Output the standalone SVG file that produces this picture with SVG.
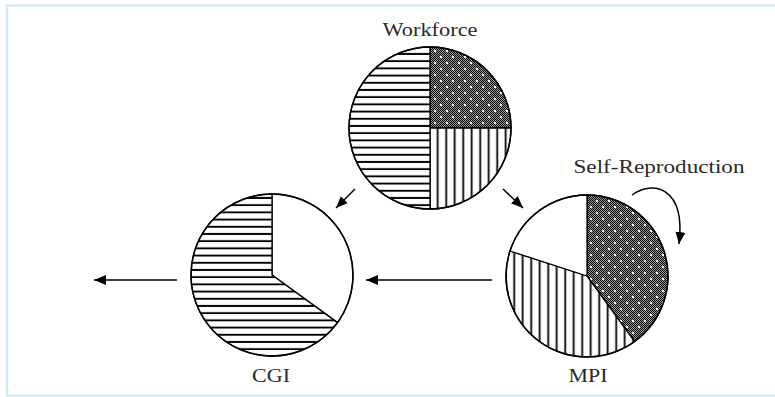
<svg xmlns="http://www.w3.org/2000/svg" width="775" height="397" viewBox="0 0 775 397">
<style>
.lbl{font-family:"Liberation Serif","Times New Roman",serif;font-size:18px;fill:#2a2a2a;text-anchor:middle}
.out{fill:none;stroke:#000;stroke-width:1.5}
.sl{stroke:#000;stroke-width:1.3;stroke-linejoin:round}
.con{fill:none;stroke:#000;stroke-width:1.5}
</style>
<defs>
<pattern id="hstripe" patternUnits="userSpaceOnUse" width="10" height="7.2">
<rect width="10" height="7.2" fill="#fff"/>
<rect y="2.6" width="10" height="1.9" fill="#000"/>
</pattern>
<pattern id="vstripe" patternUnits="userSpaceOnUse" width="8.5" height="10">
<rect width="8.5" height="10" fill="#fff"/>
<rect x="3.3" width="1.8" height="10" fill="#000"/>
</pattern>
<pattern id="checker" patternUnits="userSpaceOnUse" width="2" height="2">
<rect width="2" height="2" fill="#9a9a9a"/>
<rect width="1" height="1" fill="#000"/>
<rect x="1" y="1" width="1" height="1" fill="#000"/>
</pattern>
<pattern id="dots" patternUnits="userSpaceOnUse" width="12" height="12">
<rect x="2" y="2" width="2" height="2" fill="#fff"/>
<rect x="8" y="8" width="2" height="2" fill="#fff"/>
</pattern>
<marker id="ah" markerUnits="userSpaceOnUse" markerWidth="14" markerHeight="12" refX="12" refY="5" orient="auto">
<path d="M0,0 L12,5 L0,10 Z" fill="#000"/>
</marker>
</defs>
<rect x="7" y="5.5" width="790" height="390" fill="none" stroke="#d3eaf5" stroke-width="2.4"/>

<g id="workforce">
<path class="sl" d="M430,128 L430,47 A81,81 0 0 1 511,128 Z" fill="url(#checker)"/>
<path d="M430,128 L430,47 A81,81 0 0 1 511,128 Z" fill="url(#dots)"/>
<path class="sl" d="M430,128 L511,128 A81,81 0 0 1 430,209 Z" fill="url(#vstripe)"/>
<path class="sl" d="M430,128 L430,209 A81,81 0 0 1 430,47 Z" fill="url(#hstripe)"/>
<circle class="out" cx="430" cy="128" r="81"/>
<text class="lbl" x="430" y="36" textLength="95" lengthAdjust="spacingAndGlyphs">Workforce</text>
</g>

<g id="cgi">
<path class="sl" d="M272,275 L272,194 A81,81 0 0 1 337.5,322.6 Z" fill="#fff"/>
<path class="sl" d="M272,275 L337.5,322.6 A81,81 0 1 1 272,194 Z" fill="url(#hstripe)"/>
<circle class="out" cx="272" cy="275" r="81"/>
<text class="lbl" x="271" y="382" textLength="38" lengthAdjust="spacingAndGlyphs">CGI</text>
</g>

<g id="mpi">
<path class="sl" d="M587,276 L587,195 A81,81 0 0 1 634.6,341.5 Z" fill="url(#checker)"/>
<path d="M587,276 L587,195 A81,81 0 0 1 634.6,341.5 Z" fill="url(#dots)"/>
<path class="sl" d="M587,276 L634.6,341.5 A81,81 0 0 1 510,251 Z" fill="url(#vstripe)"/>
<path class="sl" d="M587,276 L510,251 A81,81 0 0 1 587,195 Z" fill="#fff"/>
<circle class="out" cx="587" cy="276" r="81"/>
<text class="lbl" x="588" y="382" textLength="39" lengthAdjust="spacingAndGlyphs">MPI</text>
<text class="lbl" x="659" y="173" textLength="171" lengthAdjust="spacingAndGlyphs">Self-Reproduction</text>
</g>

<g id="connectors">
<line class="con" x1="355" y1="189" x2="336" y2="208" marker-end="url(#ah)"/>
<line class="con" x1="503" y1="189" x2="523" y2="208" marker-end="url(#ah)"/>
<line class="con" x1="492" y1="280" x2="366" y2="280" marker-end="url(#ah)"/>
<line class="con" x1="177" y1="280" x2="94" y2="280" marker-end="url(#ah)"/>
<path class="con" d="M632,195 C652,180 686,186 679,244" marker-end="url(#ah)"/>
</g>
</svg>
